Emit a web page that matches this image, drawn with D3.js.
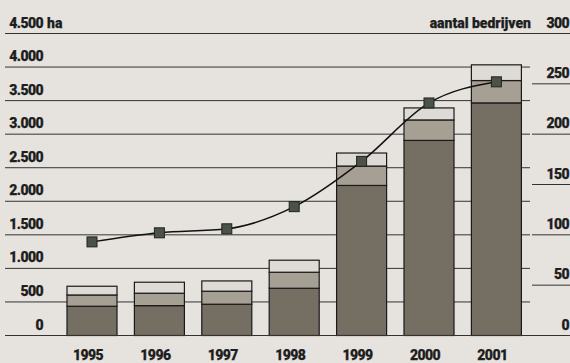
<!DOCTYPE html>
<html>
<head>
<meta charset="utf-8">
<script src="https://cdn.jsdelivr.net/npm/d3@7"></script>
<style>
  html, body { margin: 0; padding: 0; background: #e6e3df; }
  svg { display: block; }
  text { font-family: Roboto, "Liberation Sans", Arial, sans-serif; font-weight: 900; fill: #1e1e1e; font-size: 14px; stroke: #1e1e1e; stroke-width: 0.25px; }
  text.num { letter-spacing: -0.6px; }
</style>
</head>
<body>
<svg id="chart" width="570" height="363"></svg>
<script>
const years = ["1995", "1996", "1997", "1998", "1999", "2000", "2001"];
// stacked hectare segments (bottom, middle, top)
const haDark  = [436, 445, 466, 704, 2236, 2907, 3466];
const haMid   = [168, 185, 194, 239, 289, 305, 333];
const haLight = [130, 164, 153, 179, 194, 179, 234];
// number of farms (right axis)
const farms = [93, 102, 106, 128, 173, 231, 252];
const leftTicks = [0, 500, 1000, 1500, 2000, 2500, 3000, 3500, 4000, 4500];
const rightTicks = [0, 50, 100, 150, 200, 250, 300];

const svg = d3.select("#chart");
const W = 570;
const yTop = 33.5, yBase = 335.5;

const x = d3.scaleBand().domain(years).range([58.3, 530.1]).paddingInner(0.258).paddingOuter(0.129);
const yL = d3.scaleLinear().domain([0, 4500]).range([yBase, yTop]);
const yR = d3.scaleLinear().domain([0, 300]).range([yBase, yTop]);

const fmt = d3.formatLocale({decimal: ",", thousands: ".", grouping: [3], currency: ["", ""]}).format(",");

// left gridlines
svg.append("g").selectAll("line").data(leftTicks).join("line")
  .attr("x1", 5)
  .attr("x2", d => (d === 0 || d === 4500) ? W : 530)
  .attr("y1", d => yL(d)).attr("y2", d => yL(d))
  .attr("stroke", "#333").attr("stroke-width", 1);

// right tick lines
svg.append("g").selectAll("line").data(rightTicks.filter(d => d > 0 && d < 300)).join("line")
  .attr("x1", 532).attr("x2", W)
  .attr("y1", d => yR(d)).attr("y2", d => yR(d))
  .attr("stroke", "#333").attr("stroke-width", 1);

// left labels
svg.append("g").selectAll("text").data(leftTicks).join("text")
  .attr("class", "num")
  .attr("x", 43).attr("y", d => yL(d) - 6)
  .attr("text-anchor", "end")
  .text(d => fmt(d));
svg.append("text").attr("x", 47).attr("y", yL(4500) - 6).text("ha");

// right labels
svg.append("g").selectAll("text").data(rightTicks).join("text")
  .attr("class", "num")
  .attr("x", 569).attr("y", d => yR(d) - 6)
  .attr("text-anchor", "end")
  .text(d => d);
svg.append("text").attr("x", 531).attr("y", yR(300) - 6).attr("text-anchor", "end").text("aantal bedrijven");

// stacked bars
const rows = years.map((y, i) => ({year: y, dark: haDark[i], mid: haMid[i], light: haLight[i]}));
const stack = d3.stack().keys(["dark", "mid", "light"])(rows);
const colors = {dark: "#756e62", mid: "#a69f94", light: "#dedad5"};
svg.append("g").selectAll("g").data(stack).join("g")
  .attr("fill", d => colors[d.key])
  .selectAll("rect").data(d => d).join("rect")
  .attr("x", d => x(d.data.year))
  .attr("width", x.bandwidth())
  .attr("y", d => yL(d[1]))
  .attr("height", d => yL(d[0]) - yL(d[1]))
  .attr("stroke", "#1a1a1a").attr("stroke-width", 1.2);

// baseline on top
svg.append("line").attr("x1", 5).attr("x2", W).attr("y1", yBase).attr("y2", yBase)
  .attr("stroke", "#333").attr("stroke-width", 1);

// farms line
const pts = years.map((y, i) => [x(y) + x.bandwidth() / 2, yR(farms[i])]);
svg.append("path")
  .attr("d", d3.line().curve(d3.curveMonotoneX)(pts))
  .attr("fill", "none").attr("stroke", "#111").attr("stroke-width", 1.5);
svg.append("g").selectAll("rect").data(pts).join("rect")
  .attr("x", d => d[0] - 5).attr("y", d => d[1] - 5)
  .attr("width", 10).attr("height", 10)
  .attr("fill", "#4b5247").attr("stroke", "#1f231d").attr("stroke-width", 1);

// year labels
svg.append("g").selectAll("text").data(years).join("text")
  .attr("class", "num")
  .attr("x", d => x(d) + x.bandwidth() / 2 - 4).attr("y", 360)
  .attr("text-anchor", "middle")
  .text(d => d);
</script>
</body>
</html>
